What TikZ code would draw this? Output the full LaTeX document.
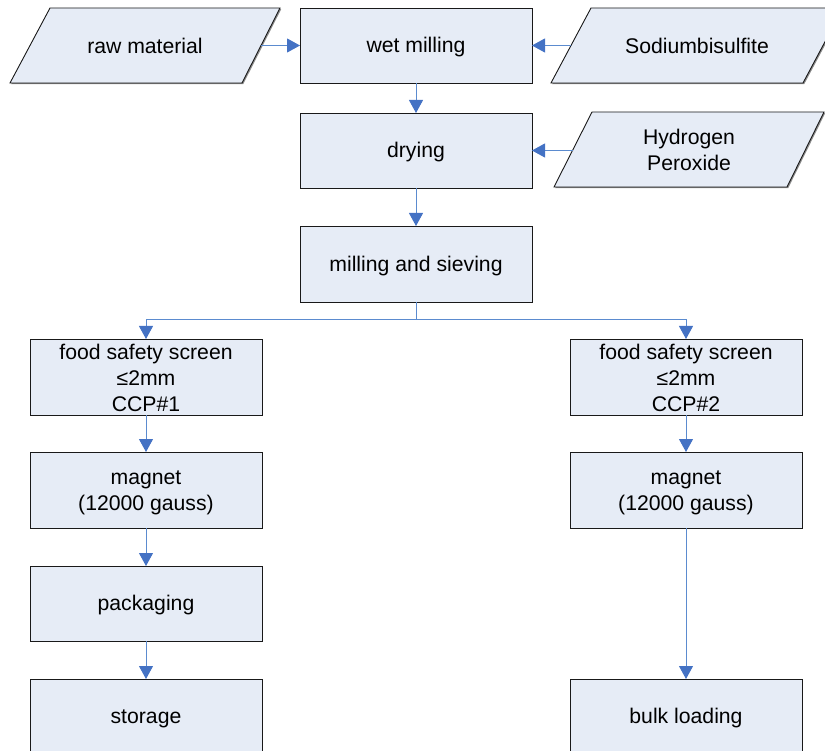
\documentclass[tikz,border=0pt]{standalone}
\usepackage{fontspec}
\setmainfont{Liberation Sans}
\usetikzlibrary{arrows.meta,shadows}
\definecolor{boxfill}{HTML}{E6ECF6}
\definecolor{lineblue}{HTML}{5B8BCF}
\definecolor{tipblue}{HTML}{4472C4}
\newcommand\myTop{\rule{0pt}{18.5pt}}
\newcommand\myBot{\rule[-1.5pt]{0pt}{1.5pt}}
\tikzset{
  x=1pt, y=-1pt,
  shad/.style={drop shadow={shadow xshift=1.2pt,shadow yshift=-1.2pt,fill=black!45,opacity=1}},
  txt/.style={inner sep=0pt, outer sep=0pt, align=center,
    font=\fontsize{21.2pt}{26pt}\selectfont},
  box/.style={txt, draw=black!90, line width=0.9pt, fill=boxfill, shad, rectangle,
    minimum width=232pt, minimum height=75pt},
  paraline/.style={draw=black!90, line width=0.9pt, fill=boxfill, shad},
  flow/.style={draw=lineblue, line width=1pt,
    -{Triangle[length=13pt,width=14pt,fill=tipblue,color=tipblue]}},
  plain/.style={draw=lineblue, line width=1pt}
}
\begin{document}
\begin{tikzpicture}
\useasboundingbox (0,0) rectangle (825,751);
\clip (0,0) rectangle (825,751);
% input parallelograms
\path[paraline] (50,8) -- (280,8) -- (242,83) -- (10,83) -- cycle;
\node[txt] (raw) at (145,45.5) {\myTop raw material\myBot};
\coordinate (rawE) at (261,45.5);
\path[paraline] (591,8) -- (843,8) -- (803,83) -- (551,83) -- cycle;
\node[txt] (sod) at (697,45.5) {\myTop Sodiumbisulfite\myBot};
\coordinate (sodW) at (571,45.5);
\path[paraline] (592,112) -- (824,112) -- (787,187) -- (554,187) -- cycle;
\node[txt] (hyd) at (689,149.5) {\myTop Hydrogen\\Peroxide\myBot};
\coordinate (hydW) at (573,150.5);
% process boxes
\node[box] (wet) at (416,45.5) {\myTop wet milling\myBot};
\node[box] (dry) at (416,150.5) {\myTop drying\myBot};
\node[box, minimum height=76pt] (mill) at (416,264) {\myTop milling and sieving\myBot};
\node[box, minimum height=76pt] (fs1) at (146,377) {\myTop food safety screen\\≤2mm\\CCP\#1\myBot};
\node[box, minimum height=76pt] (fs2) at (686,377) {\myTop food safety screen\\≤2mm\\CCP\#2\myBot};
\node[box, minimum height=76pt] (mag1) at (146,490) {\myTop magnet\\(12000 gauss)\myBot};
\node[box, minimum height=76pt] (mag2) at (686,490) {\myTop magnet\\(12000 gauss)\myBot};
\node[box] (pack) at (146,603.5) {\myTop packaging\myBot};
\node[box] (stor) at (146,716.5) {\myTop storage\myBot};
\node[box] (bulk) at (686,716.5) {\myTop bulk loading\myBot};

\draw[flow] (rawE) -- (wet.west);
\draw[flow] (sodW) -- (wet.east);
\draw[flow] (hydW) -- (dry.east);
\draw[flow] (wet) -- (dry);
\draw[flow] (dry) -- (mill);
\draw[plain] (mill.south) -- ++(0,18) coordinate (br);
\draw[flow] (br) -| (fs1.north);
\draw[flow] (br) -| (fs2.north);
\draw[flow] (fs1) -- (mag1);
\draw[flow] (fs2) -- (mag2);
\draw[flow] (mag1) -- (pack);
\draw[flow] (pack) -- (stor);
\draw[flow] (mag2) -- (bulk);
\end{tikzpicture}
\end{document}
